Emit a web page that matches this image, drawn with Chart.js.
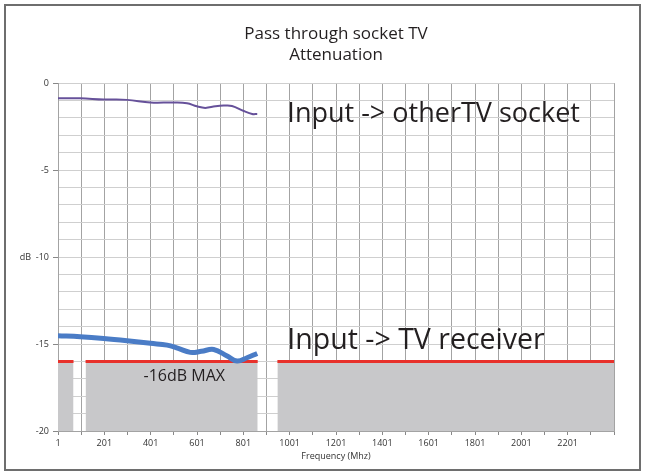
<!DOCTYPE html>
<html>
<head>
<meta charset="utf-8">
<script src="https://cdn.jsdelivr.net/npm/chart.js@4.4.0/dist/chart.umd.min.js"></script>
<style>
  html, body { margin: 0; padding: 0; background: #fff; }
  #wrap { position: relative; width: 645px; height: 474px; }
  #frame { position: absolute; left: 4px; top: 4px; width: 633px; height: 463px; border: 2px solid #6e6e6e; pointer-events: none; }
</style>
</head>
<body>
<div id="wrap">
  <canvas id="attChart" width="645" height="474"></canvas>
  <div id="frame"></div>
</div>
<script>
// Input -> other TV socket (purple)
const otherFreq = [1, 97, 198, 299, 400, 500, 558, 600, 637, 680, 716, 752, 803, 839, 861];
const otherDb = [-0.87, -0.87, -0.94, -0.96, -1.11, -1.11, -1.15, -1.33, -1.42, -1.33, -1.29, -1.31, -1.6, -1.77, -1.77];

// Input -> TV receiver (blue)
const recvFreq = [1, 97, 198, 299, 400, 472, 520, 572, 620, 673, 731, 774, 817, 861];
const recvDb = [-14.52, -14.58, -14.68, -14.81, -14.96, -15.06, -15.25, -15.48, -15.42, -15.31, -15.69, -15.98, -15.79, -15.54];

// -16 dB limit bands
const bandStart = [1, 120, 948];
const bandEnd = [68, 863, 2401];
const limitDb = -16;

const xTickValues = [1, 101, 201, 301, 401, 501, 601, 701, 801, 901, 1001, 1101, 1201, 1301, 1401, 1501, 1601, 1701, 1801, 1901, 2001, 2101, 2201, 2301, 2401];
const xTickLabels = ['1', '201', '401', '601', '801', '1001', '1201', '1401', '1601', '1801', '2001', '2201'];
const yTickLabels = [0, -5, -10, -15, -20];

const notes = [
  { text: 'Input -> otherTV socket', x: 991, y: -2.22, size: 27 },
  { text: 'Input -> TV receiver', x: 991, y: -15.31, size: 28.5 },
  { text: '-16dB MAX', x: 546, y: -17.14, size: 16, center: true },
];

const toPoints = (xs, ys) => xs.map((x, i) => ({ x: x, y: ys[i] }));

const bandSets = bandStart.map((s, i) => ({
  data: [{ x: s, y: limitDb }, { x: bandEnd[i], y: limitDb }],
  borderColor: '#e8312b',
  borderWidth: 3,
  backgroundColor: '#c8c8ca',
  fill: 'start',
  pointRadius: 0,
  order: 3,
}));

const notesPlugin = {
  id: 'notes',
  afterDatasetsDraw(chart) {
    const ctx = chart.ctx;
    const xs = chart.scales.x, ys = chart.scales.y;
    ctx.save();
    ctx.fillStyle = '#231f20';
    ctx.textBaseline = 'alphabetic';
    notes.forEach(n => {
      ctx.font = n.size + 'px "Open Sans"';
      ctx.textAlign = n.center ? 'center' : 'left';
      ctx.fillText(n.text, xs.getPixelForValue(n.x), ys.getPixelForValue(n.y));
    });
    ctx.restore();
  }
};

const chart = new Chart(document.getElementById('attChart'), {
  type: 'line',
  data: {
    datasets: [
      {
        label: 'Input -> other TV socket',
        data: toPoints(otherFreq, otherDb),
        borderColor: '#66519a',
        borderWidth: 2,
        pointRadius: 0,
        tension: 0.4,
        fill: false,
        order: 1,
      },
      {
        label: 'Input -> TV receiver',
        data: toPoints(recvFreq, recvDb),
        borderColor: '#4a7cc6',
        borderWidth: 5,
        pointRadius: 0,
        tension: 0.4,
        fill: false,
        order: 0,
      },
      ...bandSets,
    ],
  },
  options: {
    responsive: false,
    animation: false,
    layout: { padding: { left: 8, right: 31, top: 23, bottom: 12 } },
    plugins: {
      legend: { display: false },
      tooltip: { enabled: false },
      title: {
        display: true,
        fullSize: false,
        text: ['Pass through socket TV', 'Attenuation'],
        color: '#231f20',
        font: { family: 'Open Sans', size: 17, weight: 'normal', lineHeight: 1.27 },
        padding: { top: 0, bottom: 17 },
      },
    },
    scales: {
      x: {
        type: 'linear',
        min: 1,
        max: 2401,
        afterBuildTicks: axis => { axis.ticks = xTickValues.map(v => ({ value: v })); },
        afterFit: axis => { axis.height = 31; },
        ticks: {
          autoSkip: false,
          maxRotation: 0,
          color: '#333',
          font: { family: 'Open Sans', size: 9 },
          padding: 3,
          callback: v => (xTickLabels.includes(String(v)) ? String(v) : ''),
        },
        grid: { color: '#a3a3a3', tickLength: 4, tickColor: '#888' },
        border: { color: '#a3a3a3' },
        title: {
          display: true,
          text: 'Frequency (Mhz)',
          color: '#333',
          font: { family: 'Open Sans', size: 9 },
          padding: { top: 1, bottom: 0 },
        },
      },
      y: {
        min: -20,
        max: 0,
        afterFit: axis => { axis.width = 50; },
        ticks: {
          stepSize: 1,
          autoSkip: false,
          color: '#333',
          font: { family: 'Open Sans', size: 9 },
          padding: 4,
          callback: v => (yTickLabels.includes(v) ? (v === -10 ? 'dB  -10' : String(v)) : ''),
        },
        grid: {
          color: '#cfcfcf',
          tickLength: 5,
          tickColor: ctx => (yTickLabels.includes(ctx.tick.value) ? '#888' : 'rgba(0,0,0,0)'),
        },
        border: { color: '#a3a3a3' },
      },
    },
  },
  plugins: [notesPlugin],
});
</script>
</body>
</html>
